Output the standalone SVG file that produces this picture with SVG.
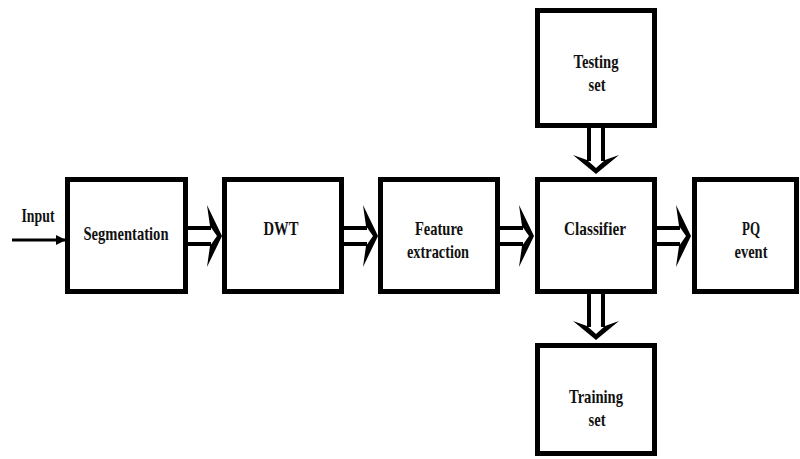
<svg xmlns="http://www.w3.org/2000/svg" width="800" height="459" viewBox="0 0 800 459">
  <style>
    .box { fill: #fff; stroke: #000; stroke-width: 5; }
    .lbl { font-family: "Liberation Serif", "Times New Roman", serif; font-weight: bold; font-size: 19px; fill: #111; text-anchor: middle; }
    .shaft { stroke: #000; stroke-width: 4; fill: none; }
    .barb { fill: #000; }
  </style>
  <defs>
    <marker id="tri" markerWidth="10" markerHeight="10" refX="9" refY="5" orient="auto" markerUnits="userSpaceOnUse">
      <path d="M0,0 L10,5 L0,10 Z" fill="#000"/>
    </marker>
    <!-- hollow double-shaft arrow pointing right, origin at shaft start on the axis -->
    <g id="fatRight">
      <line class="shaft" x1="0" y1="-8" x2="25" y2="-8"/>
      <line class="shaft" x1="0" y1="8" x2="25" y2="8"/>
      <path class="barb" d="M21,-31 L36,0 L21,31 L24,10 L31,0 L24,-10 Z"/>
    </g>
    <!-- the same arrow pointing down, origin at shaft start on the axis -->
    <g id="fatDown">
      <line class="shaft" x1="-7" y1="0" x2="-7" y2="34"/>
      <line class="shaft" x1="7" y1="0" x2="7" y2="34"/>
      <path class="barb" d="M-23,28 L0,47 L23,28 L9,33 L0,41 L-9,33 Z"/>
    </g>
  </defs>

  <rect width="800" height="459" fill="#fff"/>

  <g id="connectors">
    <line x1="12" y1="240" x2="65" y2="240" stroke="#000" stroke-width="3" marker-end="url(#tri)"/>
    <use href="#fatRight" x="186" y="236"/>
    <use href="#fatRight" x="342" y="236"/>
    <use href="#fatRight" x="498" y="236"/>
    <use href="#fatRight" x="655" y="236"/>
    <use href="#fatDown" x="596" y="127"/>
    <use href="#fatDown" x="596" y="293"/>
  </g>

  <g id="input-label">
    <text class="lbl" x="38" y="222" textLength="33" lengthAdjust="spacingAndGlyphs">Input</text>
  </g>

  <g id="segmentation">
    <rect class="box" x="67.5" y="179.5" width="118" height="112"/>
    <text class="lbl" x="126" y="240" textLength="85" lengthAdjust="spacingAndGlyphs">Segmentation</text>
  </g>

  <g id="dwt">
    <rect class="box" x="224.5" y="179.5" width="117" height="112"/>
    <text class="lbl" x="281" y="235" textLength="35" lengthAdjust="spacingAndGlyphs">DWT</text>
  </g>

  <g id="feature-extraction">
    <rect class="box" x="380.5" y="179.5" width="117" height="112"/>
    <text class="lbl" x="439" y="235" textLength="48" lengthAdjust="spacingAndGlyphs">Feature</text>
    <text class="lbl" x="438" y="258" textLength="62" lengthAdjust="spacingAndGlyphs">extraction</text>
  </g>

  <g id="classifier">
    <rect class="box" x="537.5" y="179.5" width="117" height="112"/>
    <text class="lbl" x="595" y="235" textLength="62" lengthAdjust="spacingAndGlyphs">Classifier</text>
  </g>

  <g id="pq-event">
    <rect class="box" x="694.5" y="179.5" width="102" height="112"/>
    <text class="lbl" x="751" y="235" textLength="18" lengthAdjust="spacingAndGlyphs">PQ</text>
    <text class="lbl" x="751" y="258" textLength="33" lengthAdjust="spacingAndGlyphs">event</text>
  </g>

  <g id="testing-set">
    <rect class="box" x="537.5" y="10.5" width="117" height="115"/>
    <text class="lbl" x="596" y="68" textLength="45" lengthAdjust="spacingAndGlyphs">Testing</text>
    <text class="lbl" x="597" y="91" textLength="17" lengthAdjust="spacingAndGlyphs">set</text>
  </g>

  <g id="training-set">
    <rect class="box" x="537.5" y="345.5" width="117" height="108"/>
    <text class="lbl" x="596" y="403" textLength="54" lengthAdjust="spacingAndGlyphs">Training</text>
    <text class="lbl" x="597" y="426" textLength="17" lengthAdjust="spacingAndGlyphs">set</text>
  </g>
</svg>
